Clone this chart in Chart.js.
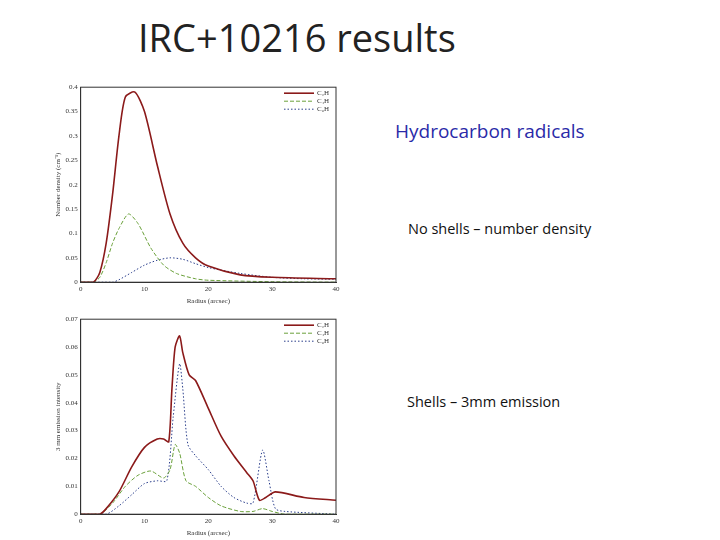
<!DOCTYPE html>
<html>
<head>
<meta charset="utf-8">
<script src="https://cdn.jsdelivr.net/npm/chart.js@4"></script>
<style>
  body { margin: 0; width: 720px; height: 540px; background: #fff; position: relative; font-family: "Open Sans", "Liberation Sans", sans-serif; overflow: hidden; }
  .t { position: absolute; white-space: nowrap; }
  .box { position: absolute; left: 36px; width: 314px; height: 225px; }
</style>
</head>
<body>
<div class="t" style="left:138px;top:11px;font-size:38px;color:#222;">IRC+10216 results</div>
<div class="t" style="left:395px;top:118px;font-size:19px;color:#2a2aa8;">Hydrocarbon radicals</div>
<div class="t" style="left:408px;top:219px;font-size:14.5px;color:#111;">No shells – number density</div>
<div class="t" style="left:407px;top:392px;font-size:14.5px;color:#111;">Shells – 3mm emission</div>
<div class="box" style="top:80px;"><canvas id="top"></canvas></div>
<div class="box" style="top:312px;"><canvas id="bottom"></canvas></div>
<script>
const seriesNames = ["C\u2082H", "C\u2084H", "C\u2086H"];

// number density (cm^-3) vs radius
const topX = [
  [0, 2, 3, 4, 5, 6, 7, 8.5, 10, 12, 14, 16, 18, 20, 25, 30, 40],
  [0, 2, 3, 4, 5, 6, 7.5, 9, 11, 13, 15, 18, 20, 30, 40],
  [0, 5, 6, 8, 10, 12, 14, 16, 18, 20, 25, 30, 35, 40]
];
const topY = [
  [0, 0, 0.02, 0.08, 0.18, 0.3, 0.38, 0.39, 0.35, 0.24, 0.14, 0.08, 0.05, 0.033, 0.015, 0.01, 0.007],
  [0, 0, 0.01, 0.04, 0.08, 0.11, 0.14, 0.12, 0.07, 0.035, 0.018, 0.007, 0.004, 0.001, 0],
  [0, 0, 0.005, 0.02, 0.035, 0.045, 0.05, 0.047, 0.038, 0.03, 0.018, 0.01, 0.007, 0.006]
];

// 3 mm emission intensity vs radius
const botX = [
  [0, 3, 4, 6, 8, 10, 12, 13, 13.8, 14.3, 14.8, 15.5, 16, 17, 18, 20, 22, 24, 26, 27, 28, 29, 30.5, 35, 40],
  [0, 3, 5, 7, 9, 11, 13, 14, 14.8, 15.5, 16.5, 18, 20, 22, 25, 27, 28.5, 30, 32, 40],
  [0, 4, 6, 8, 10, 12, 13.5, 14.5, 15.5, 16, 16.8, 18, 20, 22, 24, 26, 27, 28.5, 29.5, 30.5, 32, 40]
];
const botY = [
  [0, 0, 0.002, 0.008, 0.017, 0.024, 0.027, 0.027, 0.026, 0.045, 0.06, 0.064, 0.058, 0.05, 0.048, 0.038, 0.028, 0.021, 0.015, 0.012, 0.005, 0.006, 0.008, 0.006, 0.005],
  [0, 0, 0.004, 0.01, 0.014, 0.0155, 0.013, 0.016, 0.025, 0.022, 0.012, 0.01, 0.006, 0.003, 0.001, 0.001, 0.002, 0.001, 0, 0],
  [0, 0, 0.003, 0.007, 0.011, 0.012, 0.012, 0.035, 0.054, 0.045, 0.025, 0.021, 0.016, 0.01, 0.006, 0.004, 0.004, 0.023, 0.012, 0.002, 0.001, 0]
];

const xTicks = [0, 10, 20, 30, 40];
const colors = ["#8b1a1a", "#6aa03a", "#2b3f8c"];
const dashes = [[], [4, 2], [1.5, 2]];

function makeChart(canvasId, xs, ys, yMax, yStep, yLabel) {
  const ctx = document.getElementById(canvasId).getContext("2d");
  const tickFont = { family: "Liberation Serif", size: 7 };
  return new Chart(ctx, {
    type: "line",
    data: {
      datasets: seriesNames.map((name, i) => ({
        label: name,
        data: xs[i].map((x, j) => ({ x: x, y: ys[i][j] })),
        borderColor: colors[i],
        backgroundColor: colors[i],
        borderWidth: i === 0 ? 1.6 : 1,
        borderDash: dashes[i],
        pointRadius: 0,
        tension: 0.25,
        fill: false,
      })),
    },
    options: {
      responsive: true,
      maintainAspectRatio: false,
      animation: false,
      layout: { padding: { top: 6, right: 14, left: 18, bottom: 0 } },
      plugins: {
        legend: { display: false },
        tooltip: { enabled: false },
      },
      scales: {
        x: {
          type: "linear", min: 0, max: 40,
          afterBuildTicks: axis => { axis.ticks = xTicks.map(v => ({ value: v })); },
          grid: { display: false, drawTicks: false },
          border: { color: "#333" },
          ticks: { font: tickFont, color: "#333", padding: 3 },
          title: { display: true, text: "Radius (arcsec)", font: tickFont, color: "#333", padding: 0 },
        },
        y: {
          min: 0, max: yMax,
          ticks: { stepSize: yStep, font: tickFont, color: "#333", padding: 3, callback: v => String(Number(v.toFixed(3))) },
          grid: { display: false, drawTicks: false },
          border: { color: "#333" },
          title: { display: true, text: yLabel, font: tickFont, color: "#333", padding: 0 },
        },
      },
    },
    plugins: [{
      id: "frameAndKey",
      afterDraw(chart) {
        const a = chart.chartArea, c = chart.ctx;
        c.save(); c.strokeStyle = "#333"; c.lineWidth = 1;
        c.strokeRect(a.left, a.top, a.right - a.left, a.bottom - a.top);
        c.font = "7px 'Liberation Serif'";
        c.fillStyle = "#333"; c.textBaseline = "middle"; c.textAlign = "left";
        chart.data.datasets.forEach((d, i) => {
          const y = a.top + 6 + i * 8;
          const x0 = a.right - 52;
          c.strokeStyle = d.borderColor; c.lineWidth = d.borderWidth;
          c.setLineDash(d.borderDash);
          c.beginPath(); c.moveTo(x0, y); c.lineTo(x0 + 30, y); c.stroke();
          c.setLineDash([]);
          c.fillText(d.label, x0 + 33, y);
        });
        c.restore();
      },
    }],
  });
}

makeChart("top", topX, topY, 0.4, 0.05, "Number density (cm\u207B\u00B3)");
makeChart("bottom", botX, botY, 0.07, 0.01, "3 mm emission intensity");
</script>
</body>
</html>
